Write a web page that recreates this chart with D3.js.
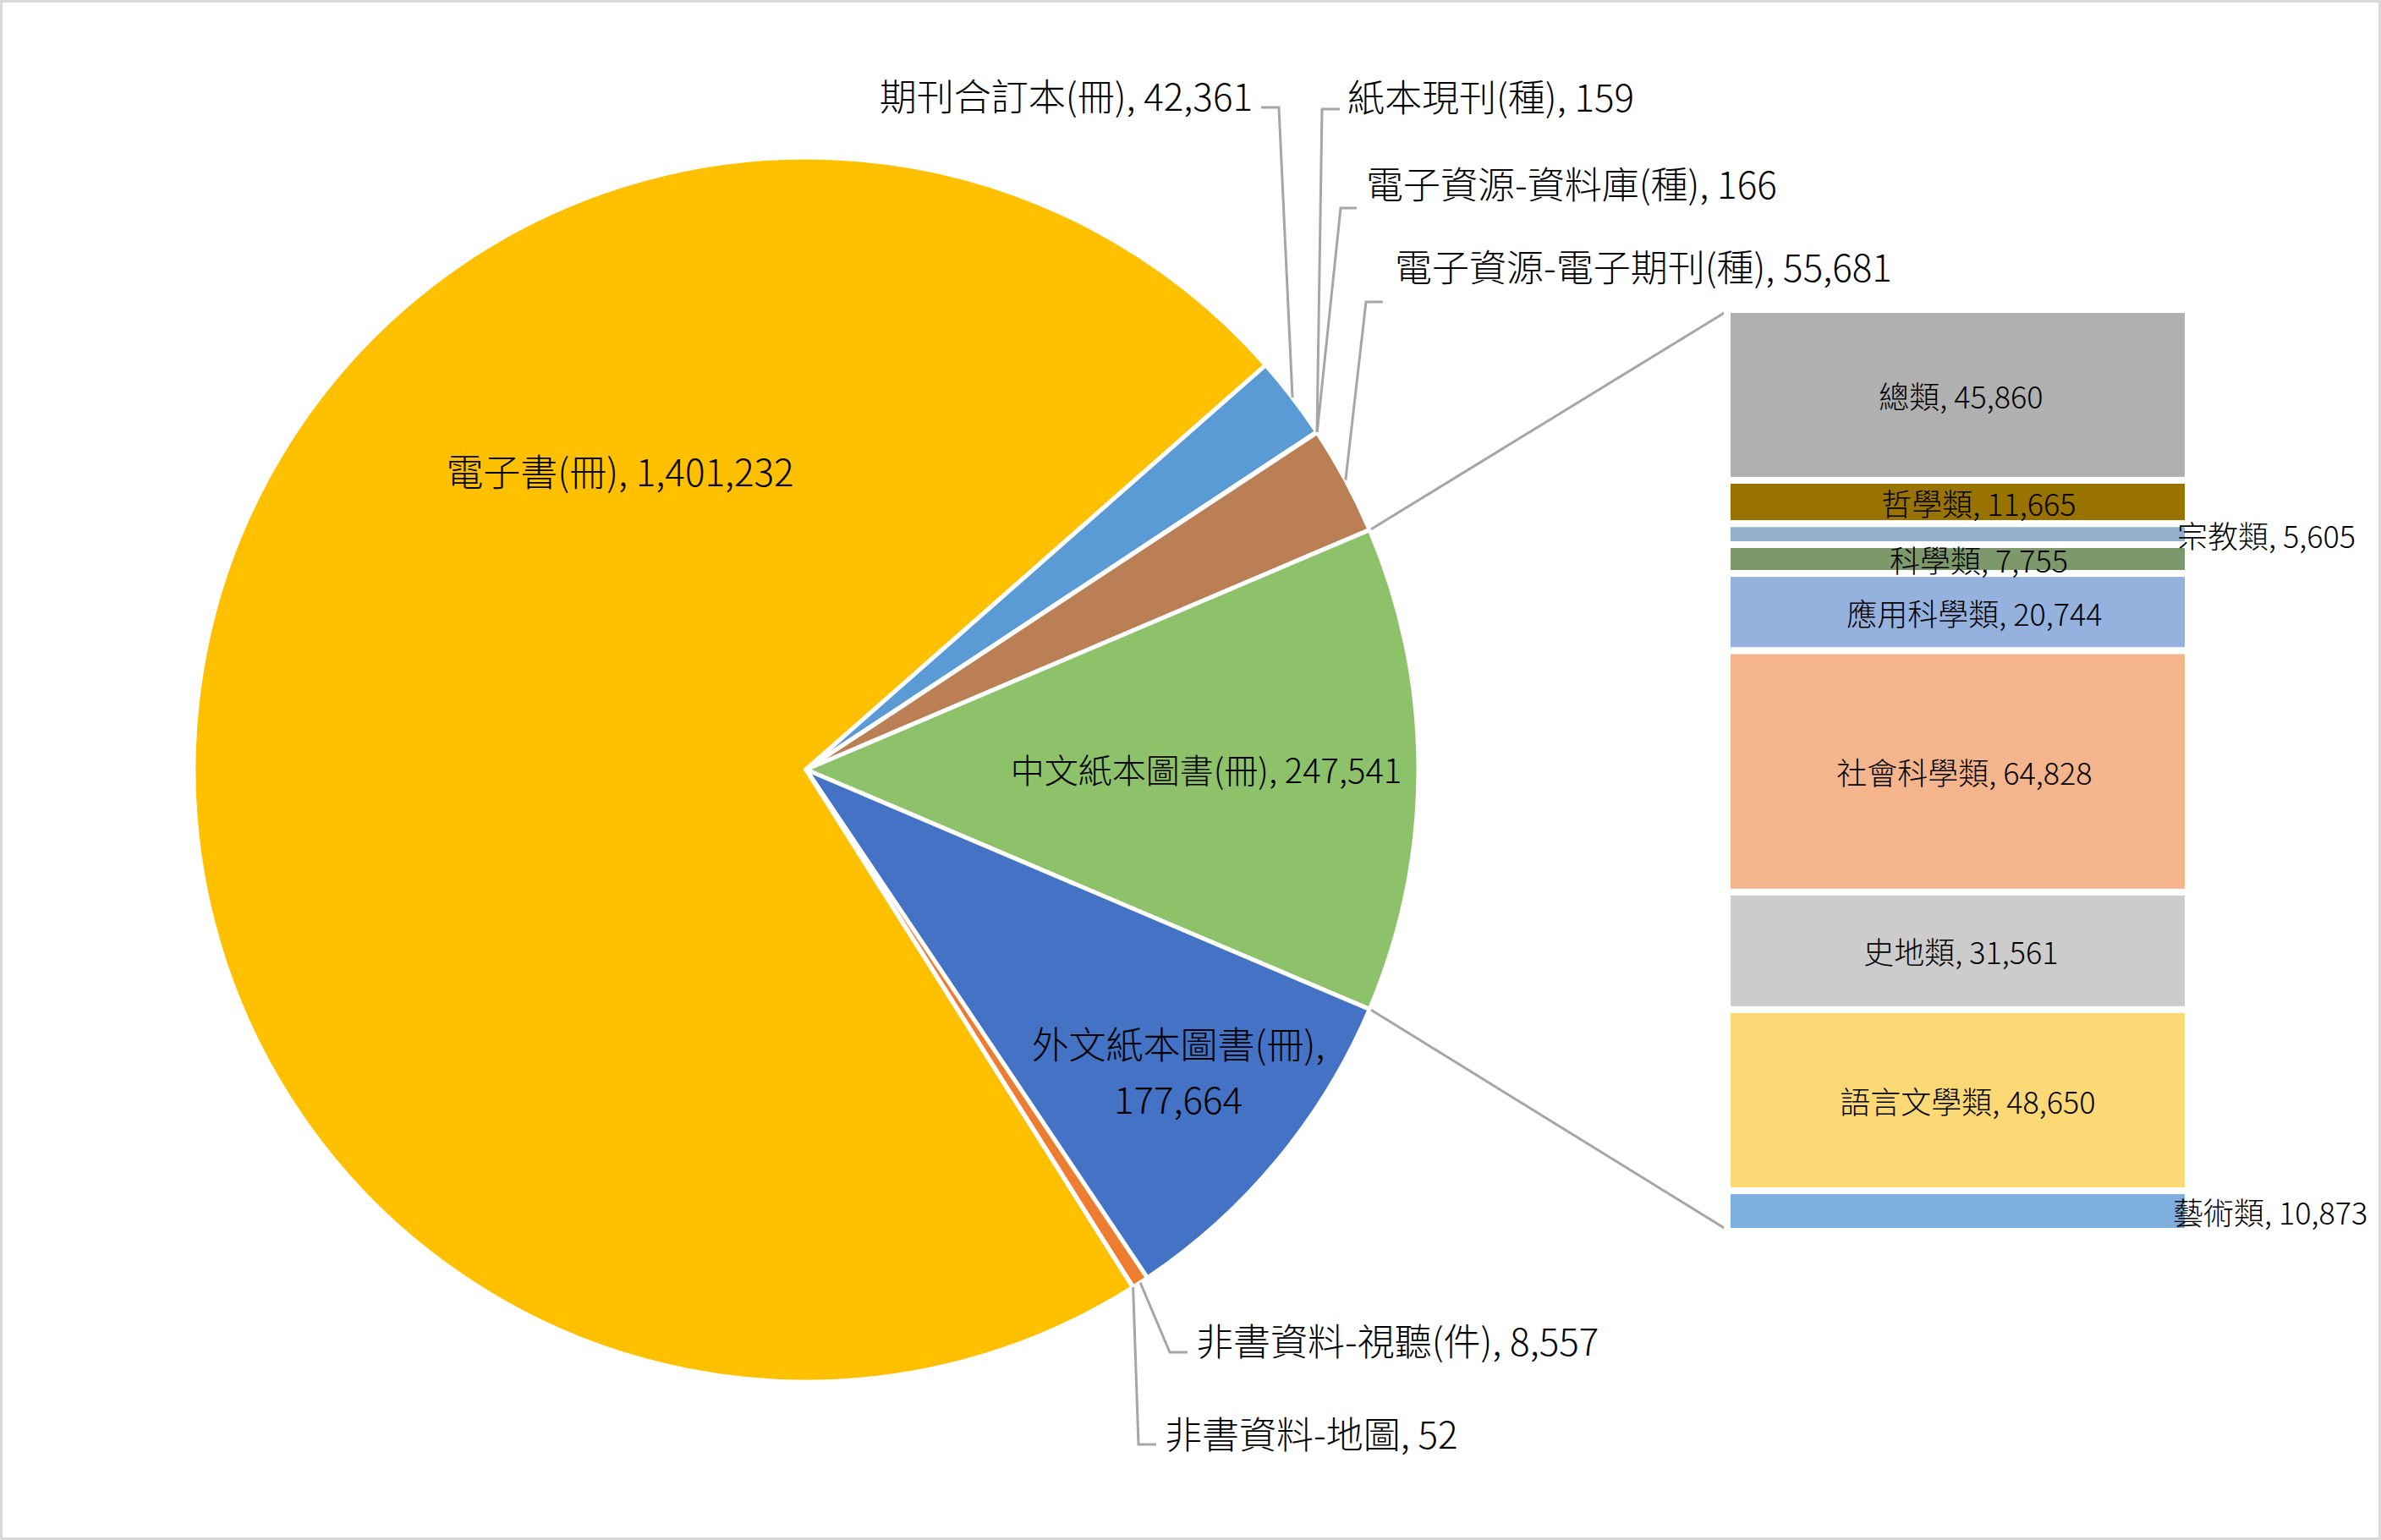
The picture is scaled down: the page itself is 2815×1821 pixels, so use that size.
<!DOCTYPE html>
<html>
<head>
<meta charset="utf-8">
<script src="https://cdn.jsdelivr.net/npm/d3@7"></script>
<style>
  body { margin: 0; background: #fff; }
  svg { display: block; }
</style>
</head>
<body>
<div id="chart"></div>
<script>
// ---- data ----
const pieNames = ["電子書(冊)", "期刊合訂本(冊)", "紙本現刊(種)", "電子資源-資料庫(種)",
  "電子資源-電子期刊(種)", "中文紙本圖書(冊)", "外文紙本圖書(冊)", "非書資料-視聽(件)", "非書資料-地圖"];
const pieValues = [1401232, 42361, 159, 166, 55681, 247541, 177664, 8557, 52];
const pieColors = ["#FFC000", "#5B9BD5", "#A5A5A5", "#264478", "#BA7F55", "#8DC16A", "#4472C4", "#ED7D31", "#636363"];

const barNames = ["總類", "哲學類", "宗教類", "科學類", "應用科學類", "社會科學類", "史地類", "語言文學類", "藝術類"];
const barValues = [45860, 11665, 5605, 7755, 20744, 64828, 31561, 48650, 10873];
const barColors = ["#B0B0B0", "#997300", "#93AFCA", "#7D996C", "#95B1DD", "#F4B58D", "#CCCCCC", "#FDD976", "#7DAEDD"];

const splitIndex = 5; // the pie slice that is broken out into the bar

// ---- layout ----
const width = 2815;
const height = 1821;
const cx = 953, cy = 910;
const radius = 724;
const fontFamily = "'Noto Sans CJK TC', 'Noto Sans', sans-serif";
const labelSize = 44;
const barLabelSize = 36;
const leaderColor = "#A6A6A6";

// label placement per slice (Excel "best fit" positions)
const pieLabelLayout = [
  { x: 733, y: 559, anchor: "middle" },
  { x: 1481, y: 115, anchor: "end", leader: [1491, 127, 1512] },
  { x: 1593, y: 116, anchor: "start", leader: [1584, 129, 1563] },
  { x: 1615, y: 219, anchor: "start", leader: [1604, 246, 1585] },
  { x: 1649, y: 317, anchor: "start", leader: [1635, 357, 1615] },
  { x: 1426, y: 912, anchor: "middle", size: 40 },
  { x: 1393, y: 1236, anchor: "middle", secondLine: 65 },
  { x: 1414, y: 1587, anchor: "start", leader: [1404, 1599, 1383] },
  { x: 1377, y: 1697, anchor: "start", leader: [1367, 1708, 1346] }
];

// bar label horizontal nudges / outside placement
const barLabelLayout = [
  { dx: 4 }, { dx: 25 }, { outside: 2574 }, { dx: 25 }, { dx: 20 },
  { dx: 8 }, { dx: 4 }, { dx: 12 }, { outside: 2569 }
];

const fmt = d3.format(",");

const svg = d3.select("#chart").append("svg")
  .attr("width", width)
  .attr("height", height)
  .attr("viewBox", [0, 0, width, height]);

svg.append("rect")
  .attr("x", 1.5).attr("y", 1.5)
  .attr("width", width - 3).attr("height", height - 3)
  .attr("fill", "#fff")
  .attr("stroke", "#D9D9D9")
  .attr("stroke-width", 3);

// rotate the pie so the split slice is centred on 3 o'clock
const basePie = d3.pie().sort(null).value(d => d)(pieValues);
const splitMid = (basePie[splitIndex].startAngle + basePie[splitIndex].endAngle) / 2;
const startAngle = Math.PI / 2 - splitMid;

const pie = d3.pie()
  .sort(null)
  .value(d => d)
  .startAngle(startAngle)
  .endAngle(startAngle + 2 * Math.PI);

const arcs = pie(pieValues);
const arc = d3.arc().innerRadius(0).outerRadius(radius);

function polar(angle, r) {
  return [cx + r * Math.sin(angle), cy - r * Math.cos(angle)];
}

const pieG = svg.append("g").attr("transform", `translate(${cx},${cy})`);

pieG.selectAll("path")
  .data(arcs)
  .join("path")
  .attr("d", arc)
  .attr("fill", (d, i) => pieColors[i])
  .attr("stroke", "#fff")
  .attr("stroke-width", 5)
  .attr("stroke-linejoin", "round");

// ---- bar of pie ----
const barX = 2042, barW = 545;
const barTop = 366, barBottom = 1456;

const yBar = d3.scaleLinear()
  .domain([0, d3.sum(barValues)])
  .range([barTop, barBottom]);

const stacked = [];
let acc = 0;
barValues.forEach((v, i) => {
  stacked.push({ name: barNames[i], value: v, y0: acc, y1: acc + v, i });
  acc += v;
});

// connector lines from the split slice to the bar
const splitArc = arcs[splitIndex];
const pTop = polar(splitArc.startAngle, radius + 2);
const pBot = polar(splitArc.endAngle, radius + 2);

svg.append("g")
  .attr("stroke", leaderColor)
  .attr("stroke-width", 3)
  .attr("fill", "none")
  .selectAll("line")
  .data([[pTop, [barX - 2, yBar(0) + 3]], [pBot, [barX - 2, yBar(acc) - 3]]])
  .join("line")
  .attr("x1", d => d[0][0]).attr("y1", d => d[0][1])
  .attr("x2", d => d[1][0]).attr("y2", d => d[1][1]);

svg.append("g").selectAll("rect")
  .data(stacked)
  .join("rect")
  .attr("x", barX)
  .attr("y", d => yBar(d.y0))
  .attr("width", barW)
  .attr("height", d => yBar(d.y1) - yBar(d.y0))
  .attr("fill", d => barColors[d.i])
  .attr("stroke", "#fff")
  .attr("stroke-width", 8);

svg.append("g")
  .attr("font-family", fontFamily)
  .attr("font-size", barLabelSize)
  .attr("font-weight", 300)
  .attr("fill", "#000")
  .selectAll("text")
  .data(stacked)
  .join("text")
  .attr("x", d => {
    const l = barLabelLayout[d.i];
    return l.outside ? l.outside : barX + barW / 2 + l.dx;
  })
  .attr("y", d => (yBar(d.y0) + yBar(d.y1)) / 2 + 3)
  .attr("dy", "0.36em")
  .attr("text-anchor", d => barLabelLayout[d.i].outside ? "start" : "middle")
  .text(d => `${d.name}, ${fmt(d.value)}`);

// ---- pie labels and leader lines ----
const leaderG = svg.append("g")
  .attr("stroke", leaderColor)
  .attr("stroke-width", 3)
  .attr("fill", "none");

leaderG.selectAll("path")
  .data(arcs.filter((d, i) => pieLabelLayout[i].leader))
  .join("path")
  .attr("d", d => {
    const l = pieLabelLayout[d.index].leader;
    const end = polar((d.startAngle + d.endAngle) / 2, radius);
    return d3.line()([[l[0], l[1]], [l[2], l[1]], end]);
  });

// one text element per label line; long inner labels wrap after the comma
const labelLines = [];
arcs.forEach((d, i) => {
  const l = pieLabelLayout[i];
  const size = l.size || labelSize;
  if (l.secondLine) {
    labelLines.push({ text: pieNames[i] + ",", x: l.x, y: l.y, anchor: l.anchor, size });
    labelLines.push({ text: fmt(pieValues[i]), x: l.x, y: l.y + l.secondLine, anchor: l.anchor, size });
  } else {
    labelLines.push({ text: `${pieNames[i]}, ${fmt(pieValues[i])}`, x: l.x, y: l.y, anchor: l.anchor, size });
  }
});

svg.append("g")
  .attr("font-family", fontFamily)
  .attr("font-weight", 300)
  .attr("fill", "#000")
  .selectAll("text")
  .data(labelLines)
  .join("text")
  .attr("font-size", d => d.size)
  .attr("text-anchor", d => d.anchor)
  .attr("x", d => d.x)
  .attr("y", d => d.y)
  .attr("dy", "0.36em")
  .text(d => d.text);
</script>
</body>
</html>
